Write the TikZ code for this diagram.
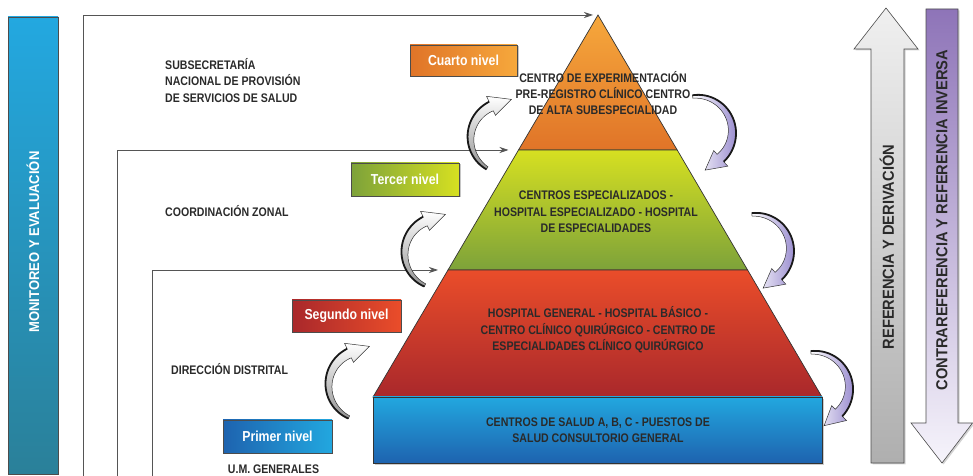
\documentclass[tikz,border=0pt]{standalone}
\usepackage{fontspec}
\setmainfont{Liberation Sans}
\newfontfamily\nar[FakeStretch=0.85]{Liberation Sans}
\newfontfamily\narb[FakeStretch=0.92]{Liberation Sans}
\usetikzlibrary{arrows.meta,shadows,calc}
\definecolor{txt}{HTML}{2A2A2A}
\definecolor{oTop}{HTML}{F6A83C}\definecolor{oBot}{HTML}{E07428}
\definecolor{gTop}{HTML}{D6E021}\definecolor{gBot}{HTML}{7DA23A}
\definecolor{rTop}{HTML}{EA4D2A}\definecolor{rBot}{HTML}{A9282B}
\definecolor{bTop}{HTML}{22A7DF}\definecolor{bBot}{HTML}{1E63AF}
\definecolor{monTop}{HTML}{23A8E0}\definecolor{monBot}{HTML}{2A8099}
\definecolor{lav}{HTML}{9C8FD0}
\definecolor{purTop}{HTML}{8E74B8}\definecolor{purBot}{HTML}{F6F4FB}
\definecolor{conn}{HTML}{555555}
\newcommand{\curvArrow}[7]{%
\begin{scope}[shift={(#1,#2)}]
\path[#7] plot[domain=#3:#4, samples=30, variable=\t] (\t:{#6+2+3*(\t-(#3))/((#4)-(#3))})
 -- (#4:{#6+11}) -- (#5:{#6+4}) -- (#4:{#6-10})
 -- plot[domain=#4:#3, samples=30, variable=\t] (\t:{#6-1-4*(\t-(#3))/((#4)-(#3))}) -- cycle;
\draw[line width=1.8pt, black!90] plot[domain=#3:#4, samples=30, variable=\t] (\t:{#6+2+3*(\t-(#3))/((#4)-(#3))});
\end{scope}}
\begin{document}
\begin{tikzpicture}[x=1bp, y=-1bp,
  ptext/.style={align=center, font=\nar\bfseries\fontsize{12.5}{16.5}\selectfont, text=txt, inner sep=0pt},
  ltext/.style={align=left, font=\nar\bfseries\fontsize{12.5}{16.5}\selectfont, text=txt, inner sep=0pt},
  lvl/.style={draw=black!70, line width=0.6pt, minimum width=108bp, minimum height=32bp, inner sep=0pt,
    font=\nar\bfseries\fontsize{14.5}{16}\selectfont, text=white,
    drop shadow={shadow xshift=1.5pt, shadow yshift=-1.5pt, opacity=0.45}},
  layer/.style={draw=black!80, line width=0.7pt},
  connline/.style={draw=conn, line width=0.8pt, -{Stealth[length=9bp, width=6bp]}},
  bigtext/.style={font=\narb\bfseries\fontsize{16}{18}\selectfont, text=txt, inner sep=0pt},
  leftarr/.style={draw=black!80, line width=0.5pt, top color=white, bottom color=gray!85},
  rightarr/.style={draw=black!80, line width=0.5pt, left color=white, right color=lav}
]
\useasboundingbox (0,0) rectangle (973,476);

% monitoring bar
\path[draw=black!70, line width=0.7pt, top color=monTop, bottom color=monBot,
  drop shadow={shadow xshift=1.5pt, shadow yshift=-1.5pt, opacity=0.4}] (8,17) rectangle (58,474);
\node[rotate=90, font=\narb\bfseries\fontsize{14.2}{16}\selectfont, text=white, inner sep=0pt] (mon) at (33,242) {MONITOREO Y EVALUACIÓN};

% pyramid
\coordinate (apex) at (598,15);
\coordinate (gTL) at (518.5,150);
\coordinate (gTR) at (677.2,150);
\coordinate (rTL) at (448,270);
\coordinate (rTR) at (747.6,270);
\coordinate (bTL) at (373,397);
\coordinate (bTR) at (822,397);
\path[layer, top color=oTop, bottom color=oBot] (apex) -- (gTR) -- (gTL) -- cycle;
\path[layer, top color=gTop, bottom color=gBot] (gTL) -- (gTR) -- (rTR) -- (rTL) -- cycle;
\path[layer, top color=rTop, bottom color=rBot] (rTL) -- (rTR) -- (bTR) -- (bTL) -- cycle;
\path[layer, top color=bTop, bottom color=bBot,
  drop shadow={shadow xshift=2pt, shadow yshift=-2pt, opacity=0.4}] (373,397) rectangle (822,463);

\node[ptext] (t4) at (603,93) {CENTRO DE EXPERIMENTACIÓN\\PRE-REGISTRO CLÍNICO CENTRO\\DE ALTA SUBESPECIALIDAD};
\node[ptext] (t3) at (596,212) {CENTROS ESPECIALIZADOS -\\HOSPITAL ESPECIALIZADO - HOSPITAL\\DE ESPECIALIDADES};
\node[ptext] (t2) at (598,330) {HOSPITAL GENERAL - HOSPITAL BÁSICO -\\CENTRO CLÍNICO QUIRÚRGICO - CENTRO DE\\ESPECIALIDADES CLÍNICO QUIRÚRGICO};
\node[ptext] (t1) at (598,430) {CENTROS DE SALUD A, B, C - PUESTOS DE\\SALUD CONSULTORIO GENERAL};

% level labels
\node[lvl, left color=oBot, right color=oTop, minimum width=107bp, minimum height=31bp] (n4) at (463.5,60.5) {Cuarto nivel};
\node[lvl, left color=gBot, right color=gTop, minimum height=33bp] (n3) at (405,179.5) {Tercer nivel};
\node[lvl, left color=rBot, right color=rTop, minimum width=109bp] (n2) at (346.5,316) {Segundo nivel};
\node[lvl, left color=bBot, right color=bTop, minimum width=109bp, minimum height=33bp] (n1) at (277.5,436.5) {Primer nivel};

% left texts
\node[ltext, anchor=west] (sub) at (165,80.5) {SUBSECRETARÍA\\NACIONAL DE PROVISIÓN\\DE SERVICIOS DE SALUD};
\node[ltext, anchor=west] (coord) at (165,211) {COORDINACIÓN ZONAL};
\node[ltext, anchor=west] (dir) at (171,369) {DIRECCIÓN DISTRITAL};
\node[ltext] (um) at (273.5,469.5) {U.M. GENERALES};

% connectors
\coordinate (s1) at (83,476);
\coordinate (s2) at (117,476);
\coordinate (s3) at (152,476);
\draw[connline, shorten >=5bp] (s1) |- (apex);
\draw[connline, shorten >=10bp] (s2) |- (gTL);
\draw[connline, shorten >=10bp] (s3) |- (rTL);

% big side arrows
\path[draw=black!70, line width=0.6pt, top color=gray!12, bottom color=gray!95!black!60,
  drop shadow={shadow xshift=1.5pt, shadow yshift=-1.5pt, opacity=0.35}]
  (871,463) -- (871,49) -- (854,49) -- (886,8) -- (918,49) -- (904,49) -- (904,463) -- cycle;
\node[rotate=90, bigtext] (refder) at (887,247) {REFERENCIA Y DERIVACIÓN};
\path[draw=black!70, line width=0.6pt, top color=purTop, bottom color=purBot,
  drop shadow={shadow xshift=1.5pt, shadow yshift=-1.5pt, opacity=0.35}]
  (926,9) -- (958,9) -- (958,423) -- (972.5,423) -- (942,463) -- (911,423) -- (926,423) -- cycle;
\node[rotate=90, bigtext] (contra) at (942,220) {CONTRAREFERENCIA Y REFERENCIA INVERSA};

% curved arrows (left: upward)
\curvArrow{506}{138}{122}{245}{278}{35}{leftarr}
\curvArrow{440}{253}{115}{245}{278}{35}{leftarr}
\curvArrow{364}{385}{115}{245}{278}{35}{leftarr}
% curved arrows (right: downward)
\curvArrow{697}{132}{-97}{48}{78}{35}{rightarr}
\curvArrow{755}{250}{-95}{48}{78}{35}{rightarr}
\curvArrow{814}{388}{-95}{45}{75}{35}{rightarr}
\end{tikzpicture}
\end{document}
